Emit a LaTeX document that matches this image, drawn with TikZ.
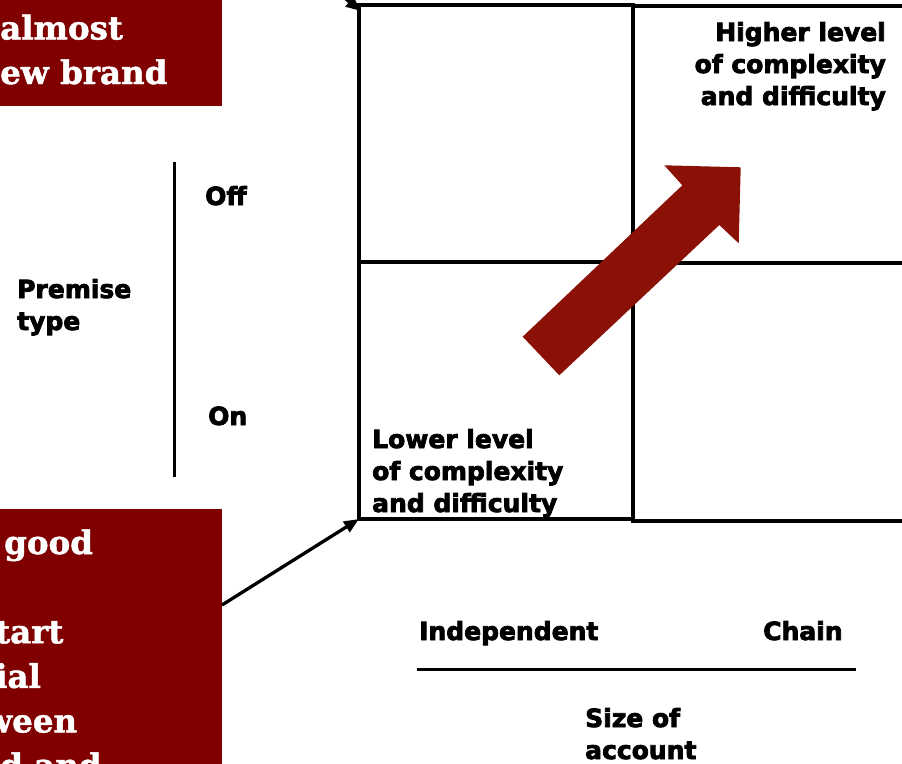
\documentclass[tikz,border=0pt]{standalone}
\usepackage{fontspec}
\setmainfont{DejaVu Sans}[BoldFeatures={FakeBold=3}]
\newfontfamily\serifbold{DejaVu Serif}[BoldFeatures={FakeBold=1.5}]
\usetikzlibrary{arrows.meta,calc}
\definecolor{boxred}{RGB}{128,0,0}
\definecolor{arrowred}{RGB}{139,16,6}
\begin{document}
\begin{tikzpicture}[x=1pt,y=-1pt,
  lbl/.style={font=\fontsize{25}{32}\selectfont\bfseries, inner sep=0pt, text=black},
  sertxt/.style={font=\serifbold\fontsize{32.5}{44.6}\selectfont\bfseries, inner sep=0pt, text=white},
  cell/.style={draw=black, line width=3.3pt, inner sep=0pt, outer sep=0pt, anchor=north west},
  redbox/.style={fill=boxred, draw=none, inner sep=0pt, outer sep=0pt, anchor=north east},
  conn/.style={draw=black, line width=3.3pt, -{Triangle[length=15pt,width=12pt]}},
  axis/.style={draw=black, line width=3pt}]
\clip (0,0) rectangle (902,763);
\fill[white] (0,0) rectangle (902,763);
% grid cells
\node[cell, minimum width=274pt, minimum height=257pt] (tl) at (359,5) {};
\node[cell, minimum width=274pt, minimum height=257pt] (bl) at (359,262) {};
\node[cell, minimum width=330pt, minimum height=257pt] (tr) at (633,6) {};
\node[cell, minimum width=330pt, minimum height=258pt] (br) at (633,263) {};
% fat arrow
\fill[arrowred] (522.7,336.7) -- (682.3,185.3) -- (664.3,165.3) -- (740.7,167.3)
  -- (738.7,243.3) -- (719.3,225) -- (559.3,375.3) -- cycle;
% red boxes
\node[redbox, minimum width=300pt, minimum height=200pt] (topbox) at (222,-94) {};
\node[redbox, minimum width=300pt, minimum height=300pt] (botbox) at (222,509) {};
\node[sertxt, anchor=base west, align=left] (toptext) at (0,84) {almost\\ew brand};
\node[sertxt, anchor=base west, align=left] (bottext) at (0,777) {\hspace*{4pt}good\\\mbox{}\\\hspace*{-5pt}tart\\\hspace*{-5pt}ial\\\hspace*{-16pt}ween\\d and};
% connectors
\coordinate (topsrc) at ($(topbox.north east)+(0,-6)$);
\coordinate (toptip) at ($(tl.north west)+(2,6)$);
\coordinate (botsrc) at ($(botbox.north east)+(0,96)$);
\draw[conn] (topsrc) -- (toptip);
\draw[conn] (botsrc) -- (bl.south west);
% axes
\coordinate (vt) at (174,162);
\coordinate (vb) at (174,477);
\draw[axis] (vt) -- (vb);
\coordinate (hl) at (417,669);
\coordinate (hr) at (856,669);
\draw[axis] (hl) -- (hr);
% labels
\node[lbl, anchor=base east, align=right] (high) at (886,105) {Higher level\\of complexity\\and difficulty};
\node[lbl, anchor=base west, align=left] (low) at (372,512) {Lower level\\of complexity\\and difficulty};
\node[lbl, anchor=base west] (off) at (205,205) {Off};
\node[lbl, anchor=base west] (on) at (208,425) {On};
\node[lbl, anchor=base west, align=left] (prem) at (17,330) {Premise\\type};
\node[lbl, anchor=base west] (indep) at (419,640) {Independent};
\node[lbl, anchor=base west] (chain) at (763,640) {Chain};
\node[lbl, anchor=base west, align=left] (size) at (585,759) {Size of\\account};
\end{tikzpicture}
\end{document}
